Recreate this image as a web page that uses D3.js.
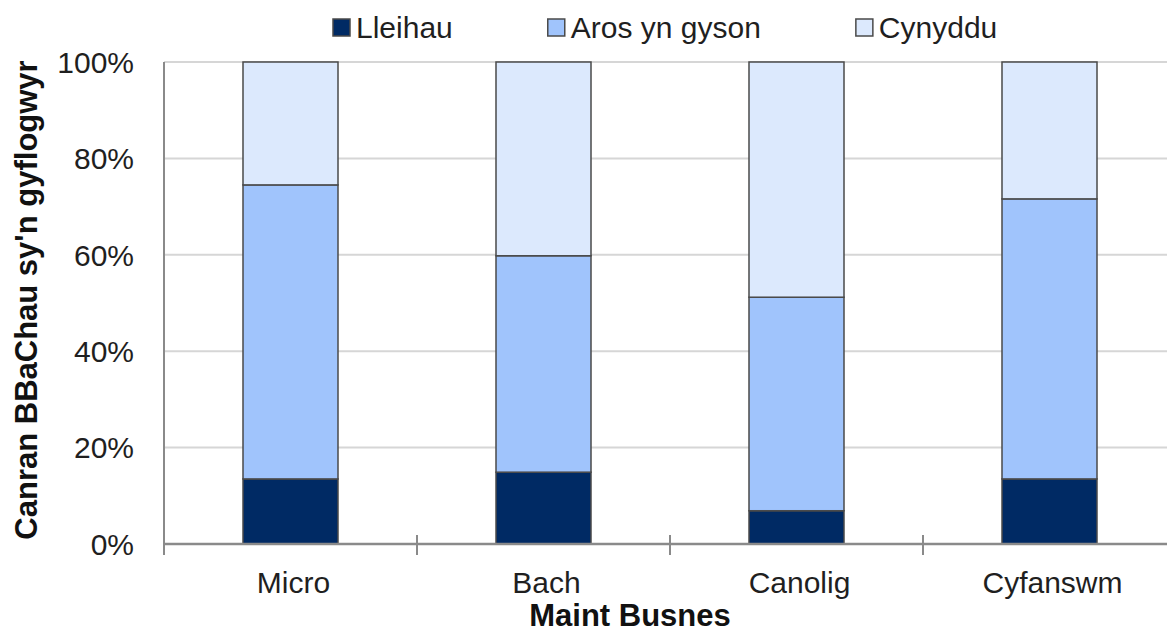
<!DOCTYPE html>
<html>
<head>
    <title>Maint Busnes</title>
    <script src="https://d3js.org/d3.v7.min.js"></script>
    <style>
        body { margin: 0; background: #fff; }
        svg { display: block; font-family: "Liberation Sans", Arial, sans-serif; }
        .tick-label { font-size: 30px; fill: #1f1f1f; }
        .axis-title { font-size: 31px; font-weight: bold; fill: #111; }
        .legend-text { font-size: 30px; fill: #1f1f1f; }
    </style>
</head>
<body>
    <svg width="1167" height="632" id="chart"></svg>

    <script>
        // Data (percent of SMEs)
        const categories = ["Micro", "Bach", "Canolig", "Cyfanswm"];
        const seriesNames = ["Lleihau", "Aros yn gyson", "Cynyddu"];
        const lleihau = [13.5, 14.9, 6.9, 13.5];
        const arosYnGyson = [61.0, 44.9, 44.3, 58.1];
        const cynyddu = [25.5, 40.2, 48.8, 28.4];
        const yTicks = [0, 20, 40, 60, 80, 100];
        const colors = ["#002a64", "#a0c4fc", "#dce9fd"];

        const svg = d3.select("#chart");
        const plotLeft = 164, plotRight = 1176, plotTop = 62, plotBottom = 544;

        const x = d3.scaleBand()
            .domain(categories)
            .range([plotLeft, plotRight])
            .paddingInner(0.6245)
            .paddingOuter(0.6245 / 2);

        const y = d3.scaleLinear()
            .domain([0, 100])
            .range([plotBottom, plotTop]);

        // build table for stacking
        const table = categories.map((c, i) => ({
            cat: c,
            "Lleihau": lleihau[i],
            "Aros yn gyson": arosYnGyson[i],
            "Cynyddu": cynyddu[i]
        }));
        const stacked = d3.stack().keys(seriesNames)(table);

        // gridlines
        svg.append("g")
            .selectAll("line")
            .data(yTicks.filter(t => t > 0))
            .enter().append("line")
            .attr("x1", plotLeft).attr("x2", plotRight)
            .attr("y1", d => y(d)).attr("y2", d => y(d))
            .attr("stroke", "#d6d6d6")
            .attr("stroke-width", 2);

        // y tick labels
        svg.append("g")
            .selectAll("text")
            .data(yTicks)
            .enter().append("text")
            .attr("class", "tick-label")
            .attr("x", 134)
            .attr("y", d => y(d))
            .attr("dy", "0.36em")
            .attr("text-anchor", "end")
            .text(d => d + "%");

        // bars
        const layers = svg.append("g")
            .selectAll("g")
            .data(stacked)
            .enter().append("g")
            .attr("fill", (d, i) => colors[i]);

        layers.selectAll("rect")
            .data(d => d)
            .enter().append("rect")
            .attr("x", d => x(d.data.cat))
            .attr("y", d => y(d[1]))
            .attr("width", x.bandwidth())
            .attr("height", d => y(d[0]) - y(d[1]))
            .attr("stroke", "#4a4a4a")
            .attr("stroke-width", 1.5);

        // axes lines
        const axisColor = "#8a8a8a";
        svg.append("line")
            .attr("x1", plotLeft).attr("x2", plotLeft)
            .attr("y1", plotTop).attr("y2", plotBottom + 11)
            .attr("stroke", axisColor).attr("stroke-width", 2);
        svg.append("line")
            .attr("x1", plotLeft).attr("x2", plotRight)
            .attr("y1", plotBottom).attr("y2", plotBottom)
            .attr("stroke", axisColor).attr("stroke-width", 2.5);

        // category separator ticks
        const step = x.step();
        svg.append("g")
            .selectAll("line")
            .data(categories.slice(1))
            .enter().append("line")
            .attr("x1", d => x(d) - (step - x.bandwidth()) / 2)
            .attr("x2", d => x(d) - (step - x.bandwidth()) / 2)
            .attr("y1", plotBottom - 9).attr("y2", plotBottom + 11)
            .attr("stroke", axisColor).attr("stroke-width", 2);

        // category labels
        svg.append("g")
            .selectAll("text")
            .data(categories)
            .enter().append("text")
            .attr("class", "tick-label")
            .attr("x", d => x(d) + x.bandwidth() / 2 + 3)
            .attr("y", 593)
            .attr("text-anchor", "middle")
            .text(d => d);

        // axis titles
        svg.append("text")
            .attr("class", "axis-title")
            .attr("x", 630)
            .attr("y", 626)
            .attr("text-anchor", "middle")
            .text("Maint Busnes");

        svg.append("text")
            .attr("class", "axis-title")
            .attr("transform", "translate(37,300) rotate(-90)")
            .attr("text-anchor", "middle")
            .text("Canran BBaChau sy'n gyflogwyr");

        // legend
        const legend = svg.append("g");
        let lx = 333;
        seriesNames.forEach((name, i) => {
            legend.append("rect")
                .attr("x", lx).attr("y", 19)
                .attr("width", 17).attr("height", 17)
                .attr("fill", colors[i])
                .attr("stroke", "#4a4a4a")
                .attr("stroke-width", 1.5);
            const t = legend.append("text")
                .attr("class", "legend-text")
                .attr("x", lx + 23)
                .attr("y", 38)
                .text(name);
            lx += 23 + t.node().getComputedTextLength() + 95;
        });
    </script>
</body>
</html>
